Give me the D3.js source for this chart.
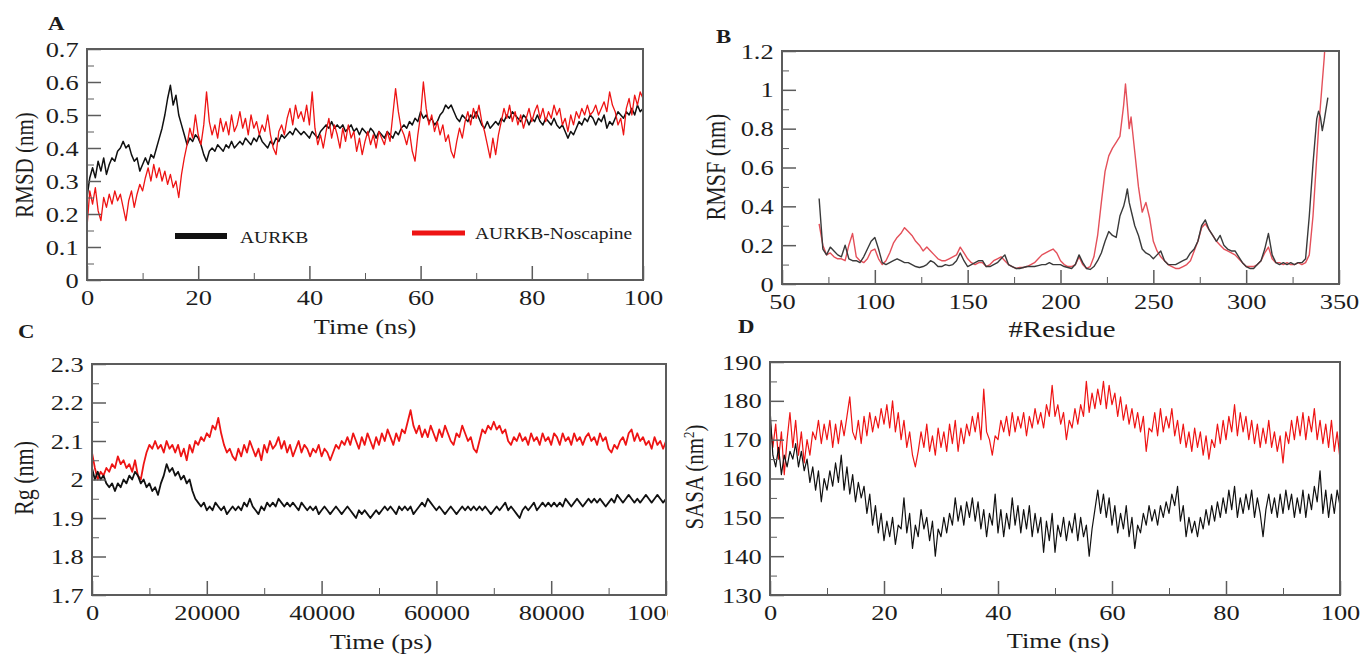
<!DOCTYPE html>
<html>
<head>
<meta charset="utf-8">
<script src="https://cdn.jsdelivr.net/npm/d3@7"></script>
<style>
  body { margin: 0; background: #fff; }
  svg { display: block; font-family: "Liberation Serif", "Times New Roman", serif; }
</style>
</head>
<body>
<script>

// ---------- data ----------
// sampling grids (simulation output every 0.5 ns / 500 ps)
var timeNs = d3.range(0, 100.5, 0.5);
var timePs = d3.range(0, 100001, 500);

// A: RMSD (nm)
var rmsdBlack = [
  0.25,0.31,0.34,0.31,0.36,0.33,0.37,0.32,0.35,0.37,
  0.36,0.39,0.40,0.42,0.40,0.41,0.38,0.36,0.37,0.33,
  0.35,0.37,0.35,0.38,0.37,0.40,0.43,0.46,0.50,0.55,
  0.59,0.53,0.56,0.50,0.47,0.44,0.41,0.43,0.42,0.44,
  0.43,0.41,0.38,0.36,0.39,0.40,0.39,0.41,0.40,0.39,
  0.41,0.40,0.42,0.40,0.41,0.42,0.41,0.43,0.42,0.41,
  0.43,0.42,0.44,0.42,0.41,0.40,0.42,0.41,0.43,0.42,
  0.44,0.43,0.44,0.45,0.44,0.46,0.45,0.44,0.45,0.44,
  0.43,0.45,0.44,0.43,0.45,0.46,0.47,0.46,0.48,0.46,
  0.47,0.46,0.47,0.45,0.46,0.47,0.45,0.46,0.44,0.46,
  0.45,0.44,0.46,0.45,0.43,0.45,0.44,0.43,0.45,0.44,
  0.43,0.45,0.44,0.46,0.47,0.46,0.48,0.47,0.49,0.48,
  0.51,0.49,0.50,0.48,0.49,0.47,0.48,0.50,0.51,0.53,
  0.52,0.53,0.51,0.49,0.48,0.50,0.49,0.48,0.50,0.49,
  0.51,0.49,0.47,0.46,0.48,0.46,0.47,0.48,0.47,0.49,
  0.48,0.50,0.49,0.51,0.50,0.49,0.48,0.50,0.49,0.47,
  0.49,0.48,0.50,0.48,0.47,0.49,0.48,0.47,0.49,0.47,
  0.46,0.47,0.45,0.43,0.45,0.44,0.46,0.48,0.47,0.49,
  0.48,0.50,0.49,0.47,0.49,0.48,0.50,0.46,0.48,0.47,
  0.49,0.51,0.50,0.49,0.51,0.50,0.52,0.50,0.53,0.51,
  0.52];
var rmsdRed = [
  0.16,0.27,0.23,0.28,0.21,0.18,0.25,0.22,0.26,0.23,
  0.27,0.24,0.26,0.22,0.18,0.24,0.27,0.22,0.26,0.29,
  0.27,0.31,0.34,0.30,0.35,0.31,0.34,0.30,0.33,0.29,
  0.32,0.28,0.30,0.25,0.32,0.37,0.41,0.46,0.43,0.50,
  0.44,0.41,0.47,0.57,0.48,0.44,0.47,0.43,0.49,0.45,
  0.48,0.44,0.50,0.45,0.47,0.51,0.46,0.49,0.44,0.50,
  0.46,0.48,0.44,0.47,0.45,0.50,0.44,0.40,0.38,0.45,
  0.47,0.44,0.49,0.52,0.47,0.53,0.49,0.51,0.48,0.53,
  0.47,0.57,0.46,0.41,0.44,0.40,0.45,0.49,0.43,0.47,
  0.44,0.40,0.46,0.42,0.47,0.43,0.45,0.39,0.43,0.38,
  0.42,0.45,0.41,0.44,0.40,0.45,0.43,0.41,0.45,0.42,
  0.50,0.58,0.51,0.46,0.44,0.41,0.45,0.39,0.36,0.44,
  0.50,0.60,0.52,0.47,0.50,0.45,0.48,0.44,0.47,0.42,
  0.44,0.39,0.37,0.42,0.46,0.43,0.48,0.51,0.47,0.52,
  0.49,0.53,0.48,0.45,0.41,0.37,0.43,0.38,0.44,0.48,
  0.52,0.49,0.53,0.48,0.51,0.47,0.50,0.46,0.49,0.52,
  0.48,0.51,0.53,0.49,0.52,0.48,0.51,0.49,0.53,0.50,
  0.52,0.47,0.49,0.45,0.50,0.47,0.51,0.49,0.52,0.50,
  0.53,0.50,0.51,0.53,0.50,0.52,0.54,0.51,0.57,0.53,
  0.51,0.47,0.49,0.44,0.52,0.55,0.50,0.56,0.53,0.57,
  0.55];

// B: RMSF (nm) per residue
var residues = [
  70,72,74,76,78,80,82,84,86,88,90,92,94,96,98,100,102,104,106,108,
  110,112,114,116,118,120,122,124,126,128,130,132,134,136,138,140,142,144,146,148,
  150,152,154,156,158,160,162,164,166,168,170,172,174,176,178,180,182,184,186,188,
  190,192,194,196,198,200,202,204,206,208,210,212,214,216,218,220,222,224,226,228,
  230,232,234,235,236,237,238,240,242,244,246,248,250,252,254,256,258,260,262,264,
  266,268,270,272,274,276,278,280,282,284,286,288,290,292,294,296,298,300,302,304,
  306,308,310,312,314,316,318,320,322,324,326,328,330,332,334,336,338,339,340,341,
  342,344];
var rmsfBlack = [
  0.44,0.18,0.15,0.19,0.17,0.15,0.14,0.20,0.13,0.12,
  0.12,0.11,0.14,0.18,0.22,0.24,0.18,0.11,0.10,0.11,
  0.12,0.13,0.12,0.11,0.11,0.10,0.09,0.085,0.09,0.10,
  0.12,0.11,0.09,0.09,0.10,0.095,0.10,0.12,0.16,0.12,
  0.09,0.10,0.11,0.12,0.12,0.09,0.09,0.10,0.11,0.13,
  0.15,0.10,0.09,0.08,0.08,0.085,0.09,0.09,0.09,0.095,
  0.10,0.10,0.11,0.10,0.10,0.10,0.09,0.085,0.08,0.10,
  0.15,0.11,0.08,0.075,0.09,0.12,0.16,0.22,0.27,0.25,
  0.24,0.35,0.40,0.44,0.49,0.42,0.38,0.30,0.25,0.18,
  0.16,0.15,0.13,0.15,0.17,0.12,0.10,0.10,0.10,0.11,
  0.12,0.13,0.16,0.18,0.22,0.30,0.33,0.28,0.25,0.22,
  0.25,0.20,0.18,0.17,0.17,0.14,0.11,0.09,0.08,0.08,
  0.10,0.12,0.18,0.26,0.15,0.11,0.10,0.11,0.10,0.11,
  0.10,0.11,0.11,0.13,0.35,0.62,0.85,0.89,0.86,0.79,
  0.84,0.96];
var rmsfRed = [
  0.31,0.20,0.15,0.16,0.14,0.13,0.13,0.12,0.20,0.26,
  0.14,0.12,0.11,0.13,0.17,0.18,0.13,0.10,0.12,0.16,
  0.21,0.24,0.26,0.29,0.27,0.25,0.22,0.20,0.17,0.19,
  0.17,0.15,0.13,0.12,0.12,0.13,0.14,0.15,0.19,0.16,
  0.13,0.11,0.10,0.11,0.11,0.09,0.10,0.12,0.13,0.14,
  0.12,0.10,0.09,0.08,0.085,0.085,0.09,0.10,0.11,0.13,
  0.15,0.16,0.17,0.18,0.16,0.12,0.10,0.09,0.09,0.10,
  0.14,0.10,0.08,0.09,0.14,0.25,0.42,0.58,0.66,0.70,
  0.73,0.76,0.92,1.03,0.92,0.80,0.86,0.68,0.50,0.37,
  0.42,0.34,0.22,0.17,0.14,0.12,0.10,0.09,0.08,0.08,
  0.09,0.10,0.12,0.17,0.22,0.29,0.31,0.28,0.25,0.22,
  0.20,0.18,0.17,0.16,0.15,0.13,0.11,0.09,0.09,0.09,
  0.10,0.12,0.16,0.19,0.13,0.11,0.11,0.10,0.11,0.10,
  0.10,0.11,0.10,0.11,0.15,0.35,0.65,0.80,0.92,1.04,
  1.16,1.45];

// C: Rg (nm)
var rgBlack = [
  2.03,2.00,2.02,2.00,2.01,1.99,1.98,1.99,1.97,1.99,
  1.98,2.00,1.99,2.01,2.00,2.02,2.01,1.99,2.00,1.98,
  1.99,1.97,1.98,1.96,1.99,2.01,2.04,2.02,2.03,2.01,
  2.02,2.00,2.01,1.99,2.00,1.97,1.95,1.94,1.93,1.94,
  1.92,1.93,1.92,1.94,1.93,1.92,1.93,1.91,1.92,1.93,
  1.92,1.93,1.92,1.94,1.93,1.95,1.93,1.92,1.91,1.93,
  1.92,1.94,1.93,1.94,1.93,1.95,1.94,1.93,1.94,1.93,
  1.94,1.93,1.92,1.94,1.93,1.92,1.93,1.92,1.93,1.91,
  1.92,1.93,1.92,1.91,1.92,1.93,1.92,1.91,1.92,1.93,
  1.92,1.91,1.90,1.92,1.91,1.92,1.91,1.90,1.91,1.92,
  1.91,1.92,1.93,1.92,1.93,1.92,1.91,1.93,1.92,1.93,
  1.92,1.93,1.91,1.92,1.93,1.94,1.93,1.95,1.94,1.93,
  1.92,1.93,1.92,1.91,1.92,1.93,1.92,1.91,1.92,1.93,
  1.92,1.93,1.92,1.93,1.92,1.93,1.92,1.93,1.92,1.91,
  1.92,1.93,1.92,1.93,1.94,1.92,1.93,1.92,1.91,1.90,
  1.92,1.93,1.92,1.93,1.94,1.92,1.93,1.94,1.93,1.94,
  1.93,1.94,1.93,1.94,1.93,1.95,1.94,1.93,1.94,1.95,
  1.94,1.93,1.94,1.95,1.94,1.95,1.94,1.95,1.94,1.93,
  1.94,1.95,1.94,1.96,1.95,1.94,1.95,1.96,1.95,1.94,
  1.95,1.94,1.95,1.96,1.95,1.94,1.95,1.96,1.95,1.94,
  1.95];
var rgRed = [
  2.07,2.03,2.00,2.02,2.01,2.03,2.02,2.04,2.03,2.06,
  2.04,2.05,2.03,2.04,2.02,2.05,2.01,2.00,2.04,2.07,
  2.09,2.08,2.10,2.08,2.09,2.07,2.10,2.08,2.09,2.07,
  2.09,2.06,2.08,2.05,2.09,2.07,2.10,2.09,2.11,2.10,
  2.12,2.11,2.14,2.13,2.16,2.12,2.09,2.07,2.08,2.06,
  2.05,2.08,2.06,2.09,2.07,2.10,2.08,2.06,2.08,2.05,
  2.09,2.07,2.10,2.08,2.09,2.11,2.08,2.10,2.07,2.09,
  2.06,2.08,2.10,2.07,2.09,2.08,2.06,2.08,2.07,2.09,
  2.06,2.08,2.07,2.05,2.07,2.09,2.08,2.10,2.09,2.11,
  2.09,2.12,2.10,2.08,2.11,2.09,2.12,2.10,2.08,2.11,
  2.09,2.12,2.10,2.13,2.11,2.09,2.12,2.10,2.13,2.12,
  2.15,2.18,2.14,2.12,2.14,2.11,2.13,2.11,2.14,2.12,
  2.10,2.13,2.11,2.14,2.12,2.10,2.09,2.12,2.11,2.14,
  2.12,2.10,2.11,2.08,2.07,2.10,2.13,2.12,2.14,2.13,
  2.15,2.13,2.14,2.12,2.13,2.10,2.09,2.11,2.10,2.12,
  2.10,2.11,2.09,2.12,2.10,2.11,2.09,2.12,2.10,2.11,
  2.09,2.12,2.11,2.09,2.12,2.10,2.11,2.09,2.12,2.10,
  2.11,2.09,2.11,2.12,2.10,2.11,2.09,2.12,2.10,2.11,
  2.08,2.07,2.09,2.08,2.10,2.11,2.09,2.12,2.13,2.10,
  2.12,2.10,2.11,2.09,2.10,2.08,2.11,2.09,2.10,2.08,
  2.10];

// D: SASA (nm^2)
var sasaBlack = [
  178,166,163,168,161,166,163,167,165,169,
  163,167,162,165,159,163,157,162,154,160,
  157,162,158,164,159,166,157,163,156,161,
  154,159,155,158,151,156,148,153,146,151,
  144,149,145,150,143,148,147,155,146,151,
  142,148,145,152,147,150,144,149,140,147,
  145,150,146,151,148,155,149,153,148,154,
  150,155,149,154,147,152,145,151,148,156,
  146,152,145,151,147,155,148,153,146,152,
  147,153,145,151,146,150,141,149,144,151,
  141,148,145,150,144,149,146,151,144,150,
  145,148,140,147,152,157,151,156,150,155,
  148,153,146,151,147,153,145,150,142,148,
  146,151,148,153,149,152,148,153,150,154,
  151,156,153,158,149,153,145,150,146,149,
  145,150,147,152,148,153,149,154,150,155,
  151,157,152,158,150,155,151,156,152,157,
  150,155,151,145,152,156,151,155,150,156,
  151,157,152,156,150,155,151,157,150,156,
  152,158,154,162,151,157,150,156,151,157,
  153];
var sasaRed = [
  175,168,174,165,172,161,170,177,168,175,
  166,172,164,170,166,172,170,175,169,174,
  170,175,168,174,169,175,171,176,181,172,
  170,175,169,176,171,177,172,176,173,178,
  174,179,173,180,172,177,170,175,168,172,
  166,163,167,172,168,174,167,171,166,173,
  168,172,167,174,169,175,167,173,169,174,
  171,176,172,177,170,183,172,170,166,171,
  170,175,172,176,171,177,172,176,173,177,
  171,176,173,178,174,177,173,179,176,184,
  176,179,174,177,170,175,173,178,174,179,
  176,185,177,182,178,183,179,185,178,184,
  179,182,176,181,175,179,174,178,173,177,
  172,176,167,173,172,177,171,178,172,176,
  173,178,171,175,169,174,168,172,167,173,
  168,172,166,171,165,170,168,174,169,175,
  170,176,172,179,171,177,172,176,170,175,
  169,174,168,173,169,175,168,172,167,171,
  164,172,169,175,170,176,171,177,170,176,
  172,178,170,175,169,174,168,175,167,172,
  165];

// ticks
var rmsdTicks = [0, 0.1, 0.2, 0.3, 0.4, 0.5, 0.6, 0.7];
var rmsdMinor = [0.05, 0.15, 0.25, 0.35, 0.45, 0.55, 0.65];
var nsTicks = [0, 20, 40, 60, 80, 100];
var nsMinor = [10, 30, 50, 70, 90];
var rmsfTicks = [0, 0.2, 0.4, 0.6, 0.8, 1, 1.2];
var rmsfMinor = [0.1, 0.3, 0.5, 0.7, 0.9, 1.1];
var resTicks = [50, 100, 150, 200, 250, 300, 350];
var resMinor = [75, 125, 175, 225, 275, 325];
var rgTicks = [1.7, 1.8, 1.9, 2, 2.1, 2.2, 2.3];
var rgMinor = [1.75, 1.85, 1.95, 2.05, 2.15, 2.25];
var psTicks = [0, 20000, 40000, 60000, 80000, 100000];
var psMinor = [10000, 30000, 50000, 70000, 90000];
var sasaTicks = [130, 140, 150, 160, 170, 180, 190];
var sasaMinor = [135, 145, 155, 165, 175, 185];

// ---------- drawing ----------
var svg = d3.select("body").append("svg")
    .attr("width", 1366)
    .attr("height", 656);

var axisColor = "#5c5c5c";
var textColor = "#1c1c1c";
var red = "#ee1414";
var stretch = 1.2;   // the picture is a bit wider than tall

function drawPanel(p) {
  var g = svg.append("g");
  if (p.clipRight) {
    svg.append("clipPath").attr("id", "cut" + p.name)
      .append("rect").attr("x", 0).attr("y", 0).attr("width", p.clipRight).attr("height", 656);
    g.attr("clip-path", "url(#cut" + p.name + ")");
  }

  var x = d3.scaleLinear().domain(p.xDomain).range([p.left, p.right]);
  var y = d3.scaleLinear().domain(p.yDomain).range([p.bottom, p.top]);

  svg.append("clipPath").attr("id", "plot" + p.name)
    .append("rect")
    .attr("x", p.left).attr("y", p.top)
    .attr("width", p.right - p.left).attr("height", p.bottom - p.top);

  var lines = g.append("g").attr("clip-path", "url(#plot" + p.name + ")");
  p.series.forEach(function(s) {
    var line = d3.line()
      .x(function(d, i) { return x(s.x[i]); })
      .y(function(d) { return y(d); });
    lines.append("path")
      .datum(s.y)
      .attr("fill", "none")
      .attr("stroke", s.color)
      .attr("stroke-width", s.width)
      .attr("stroke-linejoin", "round")
      .attr("d", line);
  });

  var fmt = d3.format("~g");

  // minor ticks (inside)
  g.append("g")
    .attr("transform", "translate(0," + p.bottom + ")")
    .call(d3.axisBottom(x).tickValues(p.xMinor).tickSize(-7).tickSizeOuter(0).tickFormat(""))
    .call(function(a) { a.select(".domain").remove(); })
    .attr("color", axisColor);
  g.append("g")
    .attr("transform", "translate(" + p.left + ",0)")
    .call(d3.axisLeft(y).tickValues(p.yMinor).tickSize(-7).tickSizeOuter(0).tickFormat(""))
    .call(function(a) { a.select(".domain").remove(); })
    .attr("color", axisColor);

  // major ticks + labels
  var xa = g.append("g")
    .attr("transform", "translate(0," + p.bottom + ")")
    .call(d3.axisBottom(x).tickValues(p.xTicks).tickSize(-14).tickSizeOuter(0).tickPadding(9).tickFormat(fmt))
    .call(function(a) { a.select(".domain").remove(); })
    .attr("color", axisColor)
    .attr("font-family", null)
    .attr("font-size", 22);
  xa.selectAll("line").attr("stroke-width", 1.5);
  xa.selectAll("text").attr("fill", textColor).attr("transform", "scale(" + stretch + ",1)");

  var ya = g.append("g")
    .attr("transform", "translate(" + p.left + ",0)")
    .call(d3.axisLeft(y).tickValues(p.yTicks).tickSize(-14).tickSizeOuter(0).tickPadding(7).tickFormat(fmt))
    .call(function(a) { a.select(".domain").remove(); })
    .attr("color", axisColor)
    .attr("font-family", null)
    .attr("font-size", 22);
  ya.selectAll("line").attr("stroke-width", 1.5);
  ya.selectAll("text").attr("fill", textColor).attr("transform", "scale(" + stretch + ",1)");

  // frame
  g.append("rect")
    .attr("x", p.left).attr("y", p.top)
    .attr("width", p.right - p.left).attr("height", p.bottom - p.top)
    .attr("fill", "none")
    .attr("stroke", axisColor)
    .attr("stroke-width", 2);

  return { x: x, y: y, g: g };
}

function label(txt, cx, cy, size, opts) {
  opts = opts || {};
  var t = svg.append("text")
    .attr("transform", "translate(" + cx + "," + cy + ") scale(" + stretch + ",1)" + (opts.rotate ? " rotate(-90)" : ""))
    .attr("text-anchor", opts.anchor || "middle")
    .attr("font-size", size)
    .attr("font-weight", opts.bold ? "bold" : null)
    .attr("fill", textColor);
  if (opts.rotate) t.attr("dy", "0.35em");
  t.text(txt);
  return t;
}

// A
var pa = drawPanel({
  name: "A", left: 87, right: 643, top: 49, bottom: 280,
  xDomain: [0, 100], yDomain: [0, 0.7],
  xTicks: nsTicks, xMinor: nsMinor, yTicks: rmsdTicks, yMinor: rmsdMinor,
  series: [
    { x: timeNs, y: rmsdBlack, color: "#111", width: 1.5 },
    { x: timeNs, y: rmsdRed, color: red, width: 1.3 }
  ]
});
// legend
pa.g.append("line").attr("x1", 175).attr("x2", 227).attr("y1", 236).attr("y2", 236)
  .attr("stroke", "#111").attr("stroke-width", 6);
pa.g.append("line").attr("x1", 412).attr("x2", 465).attr("y1", 233).attr("y2", 233)
  .attr("stroke", red).attr("stroke-width", 5);
svg.append("text").attr("transform", "translate(240,243) scale(1.15,1)")
  .attr("font-size", 17).attr("fill", textColor).text("AURKB");
svg.append("text").attr("transform", "translate(475,239) scale(1.15,1)")
  .attr("font-size", 17).attr("fill", textColor).text("AURKB-Noscapine");

label("A", 48, 30, 19, { bold: true, anchor: "start" });
label("Time (ns)", 365, 334, 22);
label("RMSD (nm)", 24, 165, 21, { rotate: true });

// B
drawPanel({
  name: "B", left: 782, right: 1339, top: 51, bottom: 284,
  xDomain: [50, 350], yDomain: [0, 1.2],
  xTicks: resTicks, xMinor: resMinor, yTicks: rmsfTicks, yMinor: rmsfMinor,
  series: [
    { x: residues, y: rmsfRed, color: "#e4505a", width: 1.4 },
    { x: residues, y: rmsfBlack, color: "#3a3a3a", width: 1.4 }
  ]
});
label("B", 716, 43, 19, { bold: true, anchor: "start" });
label("#Residue", 1062, 337, 24);
label("RMSF (nm)", 716, 167, 22, { rotate: true });

// C
drawPanel({
  name: "C", left: 92, right: 666, top: 364, bottom: 595, clipRight: 668,
  xDomain: [0, 100000], yDomain: [1.7, 2.3],
  xTicks: psTicks, xMinor: psMinor, yTicks: rgTicks, yMinor: rgMinor,
  series: [
    { x: timePs, y: rgRed, color: red, width: 1.8 },
    { x: timePs, y: rgBlack, color: "#111", width: 1.8 }
  ]
});
label("C", 18, 338, 19, { bold: true, anchor: "start" });
label("Time (ps)", 381, 649, 22);
label("Rg (nm)", 24, 478, 22, { rotate: true });

// D
drawPanel({
  name: "D", left: 770, right: 1340, top: 362, bottom: 595,
  xDomain: [0, 100], yDomain: [130, 190],
  xTicks: nsTicks, xMinor: nsMinor, yTicks: sasaTicks, yMinor: sasaMinor,
  series: [
    { x: timeNs, y: sasaRed, color: red, width: 1.2 },
    { x: timeNs, y: sasaBlack, color: "#111", width: 1.2 }
  ]
});
label("D", 738, 333, 19, { bold: true, anchor: "start" });
label("Time (ns)", 1058, 648, 22);
var sasaLabel = label("SASA (nm", 694, 477, 21, { rotate: true });
sasaLabel.append("tspan").attr("baseline-shift", "super").attr("font-size", 13).text("2");
sasaLabel.append("tspan").text(")");

</script>
</body>
</html>
